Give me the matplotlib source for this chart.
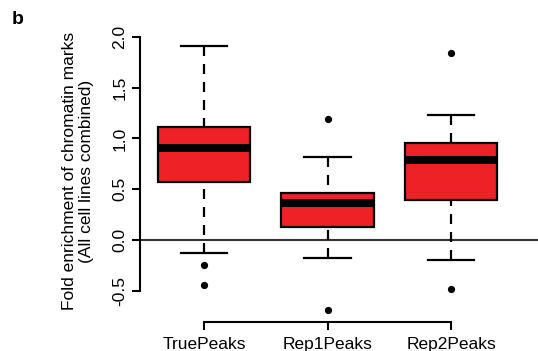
import matplotlib
matplotlib.use('Agg')
import matplotlib.pyplot as plt

plt.rcParams['font.family'] = ['Liberation Sans', 'DejaVu Sans']

# сводная статистика по группам пиков
groups = ['TruePeaks', 'Rep1Peaks', 'Rep2Peaks']
medians = [0.905, 0.36, 0.785]
q1 = [0.575, 0.125, 0.395]
q3 = [1.115, 0.46, 0.96]
whisk_lo = [-0.13, -0.18, -0.195]
whisk_hi = [1.91, 0.815, 1.235]
outliers = [[-0.25, -0.445], [1.19, -0.69], [1.84, -0.485]]

stats = []
for i, name in enumerate(groups):
    stats.append({'label': name, 'med': medians[i], 'q1': q1[i], 'q3': q3[i],
                  'whislo': whisk_lo[i], 'whishi': whisk_hi[i], 'fliers': outliers[i]})

fig = plt.figure(figsize=(5.38, 3.51), dpi=100)
ax = fig.add_axes([140 / 538, 1 - 322 / 351, 1 - 140 / 538, (322 - 26.85) / 351])

ax.axhline(0, color='#333333', lw=1.5, zorder=1)

parts = ax.bxp(stats, positions=[1, 2, 3], widths=0.75, patch_artist=True,
               boxprops=dict(facecolor='#ee2226', edgecolor='black', linewidth=1.6),
               medianprops=dict(color='black', linewidth=5.8, solid_capstyle='butt'),
               whiskerprops=dict(color='black', linewidth=1.6, linestyle=(0, (4.5, 3.6))),
               capprops=dict(color='black', linewidth=1.6),
               flierprops=dict(marker='o', markerfacecolor='black', markeredgecolor='black',
                               markersize=4.2, linestyle='none'),
               zorder=2)

# штрихи усов начинаются от засечки, а не от ящика
for w in parts['whiskers']:
    w.set_data(w.get_xdata()[::-1], w.get_ydata()[::-1])

ax.set_xlim(1 - 64 / 123.5, 1 + 334 / 123.5)
ax.set_ylim(-0.808, 2.1)

for s in ['top', 'right']:
    ax.spines[s].set_visible(False)
ax.spines['left'].set_bounds(-0.5, 2.0)
ax.spines['bottom'].set_bounds(1, 3)
ax.spines['left'].set_linewidth(1.5)
ax.spines['bottom'].set_linewidth(1.5)

ax.set_yticks([-0.5, 0.0, 0.5, 1.0, 1.5, 2.0])
ax.set_yticklabels(['-0.5', '0.0', '0.5', '1.0', '1.5', '2.0'], rotation=90, va='center')
ax.set_xticks([1, 2, 3])
ax.set_xticklabels(groups)
ax.tick_params(axis='both', labelsize=12.5, width=1.5, length=6)
ax.tick_params(axis='y', pad=3)
ax.tick_params(axis='x', pad=5)

fig.text(78 / 538, 1 - 171 / 351,
         'Fold enrichment of chromatin marks\n(All cell lines combined)',
         rotation=90, ha='center', va='center', multialignment='center',
         fontsize=12.5, linespacing=1.1)
fig.text(18 / 538, 1 - 20 / 351, 'b', fontsize=14, fontweight='bold',
         ha='center', va='center')

fig.savefig('out.png', dpi=100)
